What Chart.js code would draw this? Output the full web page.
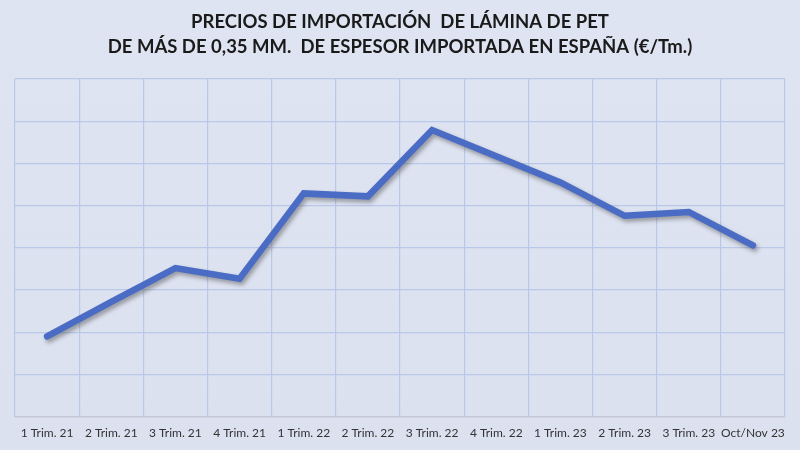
<!DOCTYPE html>
<html>
<head>
<meta charset="utf-8">
<script src="https://cdn.jsdelivr.net/npm/chart.js@4/dist/chart.umd.min.js"></script>
<style>
  html, body { margin: 0; padding: 0; background: #dde2f1; }
  #wrap { width: 800px; height: 450px; }
</style>
</head>
<body>
<div id="wrap"><canvas id="chart-pet"></canvas></div>
<script>
// datos (€/Tm., escala estimada: el original no muestra el eje)
const periodos = ['1 Trim. 21','2 Trim. 21','3 Trim. 21','4 Trim. 21','1 Trim. 22','2 Trim. 22',
                  '3 Trim. 22','4 Trim. 22','1 Trim. 23','2 Trim. 23','3 Trim. 23','Oct/Nov 23'];
const precios = [950, 1360, 1760, 1635, 2645, 2610, 3395, 3085, 2775, 2380, 2425, 2030];
const titulo = ['PRECIOS DE IMPORTACIÓN  DE LÁMINA DE PET',
                'DE MÁS DE 0,35 MM.  DE ESPESOR IMPORTADA EN ESPAÑA (€/Tm.)'];
const yMin = 0, yMax = 4000, yPaso = 500;

// fondo y sombra de la línea
const fondo = {
    id: 'fondo',
    beforeDraw(chart){
        const c = chart.ctx;
        const g = c.createLinearGradient(0, 0, 0, chart.height);
        g.addColorStop(0, '#dfe4f2');
        g.addColorStop(1, '#dce1f0');
        c.save();
        c.fillStyle = g;
        c.fillRect(0, 0, chart.width, chart.height);
        c.restore();
    }
};
const sombra = {
    id: 'sombra',
    beforeDatasetsDraw(chart){
        const c = chart.ctx;
        c.save();
        c.shadowColor = 'rgba(60,60,60,0.45)';
        c.shadowBlur = 4;
        c.shadowOffsetX = 2;
        c.shadowOffsetY = 3;
    },
    afterDatasetsDraw(chart){
        chart.ctx.restore();
    }
};

function initChart(){
    const el = document.getElementById('chart-pet');
    new Chart(el, {
        type: 'line',
        data: {
            labels: periodos,
            datasets: [{
                data: precios,
                borderColor: '#4a6cc4',
                borderWidth: 6.5,
                pointRadius: 0,
                borderCapStyle: 'round',
                borderJoinStyle: 'miter',
                tension: 0,
                fill: false
            }]
        },
        options: {
            responsive: true,
            maintainAspectRatio: false,
            animation: false,
            layout: { padding: { left: 15, right: 15, bottom: 0, top: 0 } },
            plugins: {
                legend: { display: false },
                tooltip: { enabled: false },
                title: {
                    display: true,
                    text: titulo,
                    color: '#1a1a1a',
                    font: { family: 'Lato', size: 18.5, weight: 'bold', lineHeight: 1.38 },
                    padding: { top: 9, bottom: 19 }
                }
            },
            scales: {
                x: {
                    offset: true,
                    grid: { offset: true, color: '#b8c8e8', lineWidth: 1.2, drawTicks: false },
                    border: { display: true, color: '#c4c8d2', width: 1.2 },
                    ticks: { color: '#333', padding: 9.5, maxRotation: 0, autoSkip: false,
                             font: { family: 'Lato', size: 12 } }
                },
                y: {
                    min: yMin, max: yMax,
                    grid: { color: '#b8c8e8', lineWidth: 1.2, drawTicks: false },
                    border: { display: false },
                    ticks: { display: false, stepSize: yPaso }
                }
            }
        },
        plugins: [fondo, sombra]
    });
}

initChart();
</script>
</body>
</html>
